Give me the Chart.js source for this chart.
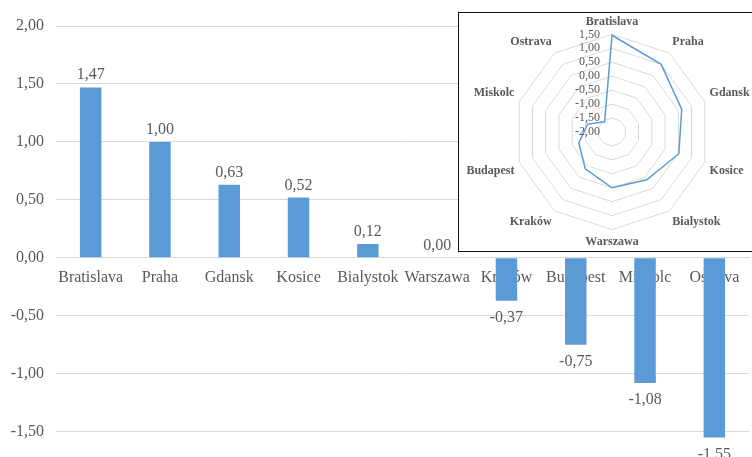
<!DOCTYPE html>
<html>
<head>
<meta charset="utf-8">
<script src="https://cdn.jsdelivr.net/npm/chart.js@4.4.1/dist/chart.umd.min.js"></script>
<style>
html, body { margin: 0; padding: 0; background: #fff; overflow: hidden; }
/* the original picture is cropped just under the lowest bar, so the canvas runs past the bottom edge */
#wrap { position: relative; width: 752px; height: 457px; overflow: hidden; }
#barChart { display: block; }
#inset { position: absolute; left: 458px; top: 12px; width: 300px; height: 240px;
         border: 1.5px solid #111; background: #fff; box-sizing: border-box; }
#inset canvas { display: block; }
</style>
</head>
<body>
<div id="wrap">
  <canvas id="barChart" width="752" height="480"></canvas>
  <div id="inset"><canvas id="radarChart" width="297" height="237"></canvas></div>
</div>
<script>
// data
const cities = ['Bratislava', 'Praha', 'Gdansk', 'Kosice', 'Bialystok', 'Warszawa', 'Kraków', 'Budapest', 'Miskolc', 'Ostrava'];
const values = [1.47, 1.00, 0.63, 0.52, 0.12, 0.00, -0.37, -0.75, -1.08, -1.55];
const barTicks = [-1.5, -1.0, -0.5, 0, 0.5, 1.0, 1.5, 2.0];
const radarTicks = [-2.0, -1.5, -1.0, -0.5, 0, 0.5, 1.0, 1.5];

const serif = '"Liberation Serif", "Times New Roman", serif';
const textColor = '#595959';
const blue = '#5B9BD5';
const fmt = v => v.toFixed(2).replace('.', ',');

// value labels above / below each bar
const barValueLabels = {
    id: 'barValueLabels',
    afterDatasetsDraw(chart) {
        const ctx = chart.ctx;
        const meta = chart.getDatasetMeta(0);
        ctx.save();
        ctx.font = '16px ' + serif;
        ctx.fillStyle = textColor;
        ctx.textAlign = 'center';
        ctx.textBaseline = 'alphabetic';
        meta.data.forEach((bar, i) => {
            const v = values[i];
            const y = v >= 0 ? bar.y - 8 : bar.y + 21;
            ctx.fillText(fmt(v), bar.x, y);
        });
        ctx.restore();
    }
};

const barChart = new Chart(document.getElementById('barChart'), {
    type: 'bar',
    data: {
        labels: cities,
        datasets: [{ data: values, backgroundColor: blue, barPercentage: 0.31, categoryPercentage: 1 }]
    },
    options: {
        responsive: false,
        animation: false,
        layout: { padding: { top: 26, right: 3, bottom: 0, left: 0 } },
        plugins: { legend: { display: false }, tooltip: { enabled: false } },
        scales: {
            x: {
                position: { y: 0 },
                z: 1,
                grid: { display: false, drawTicks: false },
                border: { display: true, color: '#d9d9d9' },
                ticks: { color: textColor, font: { family: serif, size: 16 }, padding: 10, maxRotation: 0, autoSkip: false }
            },
            y: {
                min: -1.73,
                max: 2,
                afterBuildTicks: s => { s.ticks = barTicks.map(v => ({ value: v })); },
                afterFit: s => { s.width = 56; },
                grid: { color: '#d9d9d9', drawTicks: false },
                border: { display: false },
                ticks: { color: textColor, font: { family: serif, size: 16 }, padding: 12, callback: v => fmt(v) }
            }
        }
    },
    plugins: [barValueLabels]
});

// radar tick labels, right aligned left of the vertical axis
const radarTickLabels = {
    id: 'radarTickLabels',
    afterDatasetsDraw(chart) {
        const s = chart.scales.r;
        const ctx = chart.ctx;
        ctx.save();
        ctx.font = '12px ' + serif;
        ctx.fillStyle = textColor;
        ctx.textAlign = 'right';
        ctx.textBaseline = 'middle';
        radarTicks.forEach(v => {
            ctx.fillText(fmt(v), s.xCenter - 12, s.yCenter - s.getDistanceFromCenterForValue(v));
        });
        ctx.restore();
    }
};

const radarChart = new Chart(document.getElementById('radarChart'), {
    type: 'radar',
    data: {
        labels: cities,
        datasets: [{ data: values, borderColor: blue, borderWidth: 1.5, pointRadius: 0, fill: false, tension: 0 }]
    },
    options: {
        responsive: false,
        animation: false,
        layout: { padding: { top: 2, bottom: 0, left: 2, right: 0 } },
        plugins: { legend: { display: false }, tooltip: { enabled: false } },
        scales: {
            r: {
                min: -2,
                max: 1.5,
                ticks: { stepSize: 0.5, display: false },
                grid: { color: '#d9d9d9' },
                angleLines: { display: false },
                pointLabels: { color: textColor, font: { family: serif, size: 12, weight: 'bold' }, padding: 5 }
            }
        }
    },
    plugins: [radarTickLabels]
});
</script>
</body>
</html>
